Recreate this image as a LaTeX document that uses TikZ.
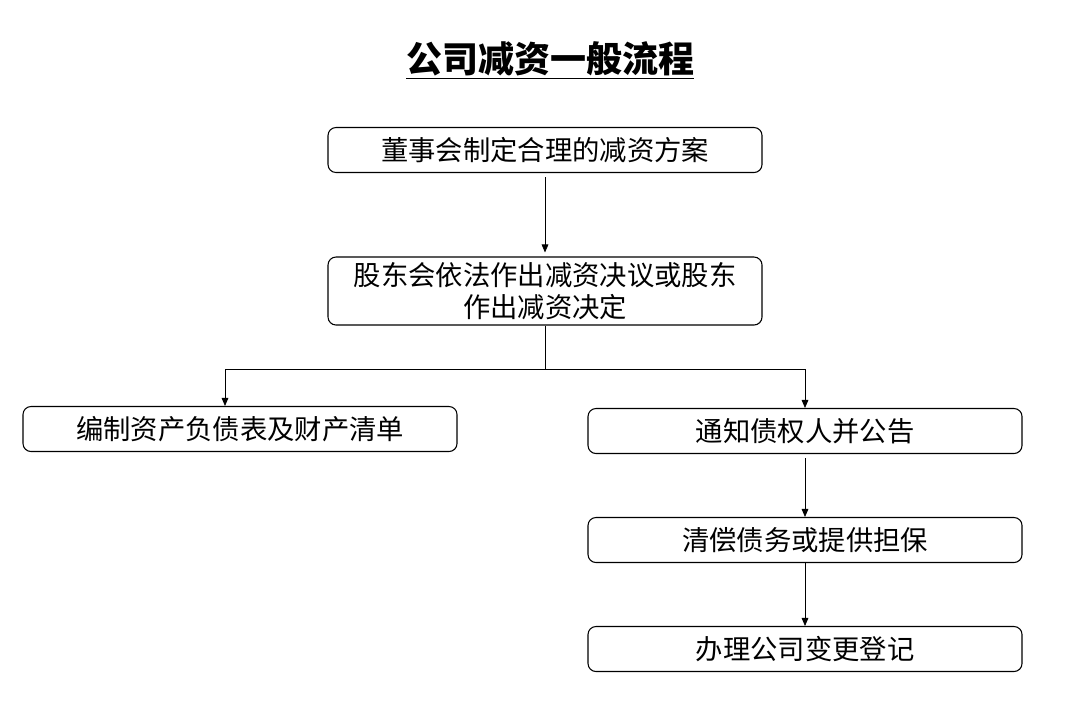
\documentclass[tikz,border=0pt]{standalone}
\usepackage{fontspec}
\setmainfont{Noto Sans CJK SC}
\newfontfamily\cjk{Noto Sans CJK SC}
\usetikzlibrary{arrows.meta}
\tikzset{
  stepbox/.style={draw, thick, rounded corners=6pt, minimum width=434\unitpx, minimum height=45\unitpx, font=\cjk\fontsize{20.5}{24}\selectfont, align=center, inner sep=0pt},
  flow/.style={-{Triangle[width=5pt,length=6pt]}, semithick}
}
\newlength{\unitpx}\setlength{\unitpx}{0.75pt}
\begin{document}
\begin{tikzpicture}[x=0.75pt, y=-0.75pt]
  \useasboundingbox (0,0) rectangle (1069,701);
  \node (title) at (550,60) {\cjk\bfseries\fontsize{27}{31}\selectfont\underline{公司减资一般流程}};
  \node[stepbox] (plan) at (545,150) {董事会制定合理的减资方案};
  \node[stepbox, minimum height=68\unitpx] (resolve) at (545,291) {股东会依法作出减资决议或股东\\作出减资决定};
  \node[stepbox] (sheet) at (240,429) {编制资产负债表及财产清单};
  \node[stepbox] (notice) at (805,431) {通知债权人并公告};
  \node[stepbox] (repay) at (805,540) {清偿债务或提供担保};
  \node[stepbox] (register) at (805,649) {办理公司变更登记};
  \coordinate (split) at (545,369);
  \coordinate (leftend) at (225,369);
  \draw[flow] ([yshift=-4\unitpx]plan.south) -- ([yshift=4\unitpx]resolve.north);
  \draw[semithick] (resolve.south) -- (split);
  \draw[flow] (split) -- (leftend) -- (leftend |- sheet.north);
  \draw[flow] (split) -| (notice.north);
  \draw[flow] ([yshift=-4\unitpx]notice.south) -- (repay.north);
  \draw[flow] (repay.south) -- (register.north);
\end{tikzpicture}
\end{document}
